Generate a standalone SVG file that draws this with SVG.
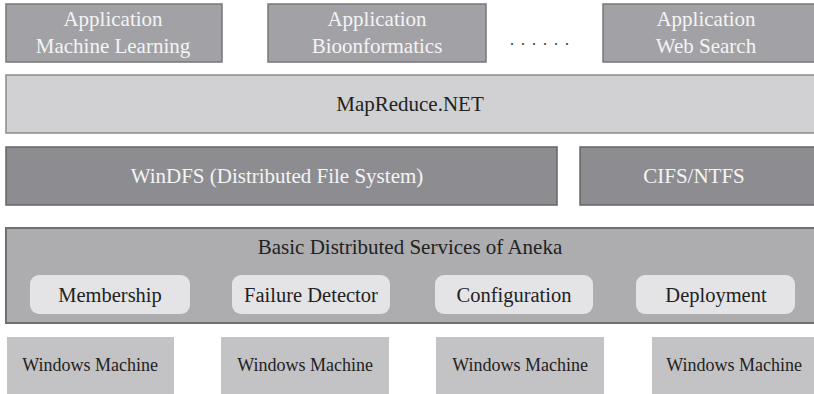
<svg xmlns="http://www.w3.org/2000/svg" width="814" height="394" viewBox="0 0 814 394" font-family="Liberation Serif, Times New Roman, serif">
<style>
text{text-anchor:middle}
.app{fill:#a2a2a6;stroke:#77777a;stroke-width:1.5}
.appt{fill:#f4f4f4;font-size:21px}
.mr{fill:#d1d1d3;stroke:#8c8c8e;stroke-width:1.5}
.fs{fill:#8d8d91;stroke:#66666a;stroke-width:1.5}
.fst{fill:#f4f4f4;font-size:21px}
.bs{fill:#adadb0;stroke:#707073;stroke-width:2}
.pill{fill:#e4e4e6}
.dk{fill:#222;font-size:21px}
.pt{fill:#222;font-size:20.5px}
.wm{fill:#c3c3c6}
.wmt{fill:#222;font-size:18px}
</style>
<g id="app-ml"><rect class="app" x="6" y="4" width="216" height="58"/><text class="appt" x="113" y="26">Application</text><text class="appt" x="113" y="53">Machine Learning</text></g>
<g id="app-bio"><rect class="app" x="268" y="4" width="218" height="58"/><text class="appt" x="377" y="26">Application</text><text class="appt" x="377" y="53">Bioonformatics</text></g>
<g id="dots"><text x="510" y="45" style="fill:#333;font-size:16px;letter-spacing:7px;text-anchor:start">......</text></g>
<g id="app-web"><rect class="app" x="603" y="4" width="215" height="58"/><text class="appt" x="706" y="26">Application</text><text class="appt" x="706" y="53">Web Search</text></g>
<g id="mapreduce"><rect class="mr" x="6" y="75" width="812" height="58"/><text class="dk" x="410" y="111">MapReduce.NET</text></g>
<g id="windfs"><rect class="fs" x="6" y="147" width="551" height="58"/><text class="fst" x="277" y="183">WinDFS (Distributed File System)</text></g>
<g id="cifs"><rect class="fs" x="580" y="147" width="238" height="58"/><text class="fst" x="694" y="183">CIFS/NTFS</text></g>
<g id="basic"><rect class="bs" x="6" y="228" width="812" height="95"/><text class="dk" x="410" y="254">Basic Distributed Services of Aneka</text></g>
<g id="membership"><rect class="pill" x="30" y="275" width="160" height="39" rx="9"/><text class="pt" x="110" y="302">Membership</text></g>
<g id="failure"><rect class="pill" x="232" y="275" width="158" height="39" rx="9"/><text class="pt" x="311" y="302">Failure Detector</text></g>
<g id="configuration"><rect class="pill" x="435" y="275" width="158" height="39" rx="9"/><text class="pt" x="514" y="302">Configuration</text></g>
<g id="deployment"><rect class="pill" x="636" y="275" width="159" height="39" rx="9"/><text class="pt" x="716" y="302">Deployment</text></g>
<g id="wm1"><rect class="wm" x="7" y="337" width="167" height="60"/><text class="wmt" x="90" y="371">Windows Machine</text></g>
<g id="wm2"><rect class="wm" x="221" y="337" width="168" height="60"/><text class="wmt" x="305" y="371">Windows Machine</text></g>
<g id="wm3"><rect class="wm" x="436" y="337" width="168" height="60"/><text class="wmt" x="520" y="371">Windows Machine</text></g>
<g id="wm4"><rect class="wm" x="652" y="337" width="168" height="60"/><text class="wmt" x="734" y="371">Windows Machine</text></g>
<g id="connectors"/>
</svg>
